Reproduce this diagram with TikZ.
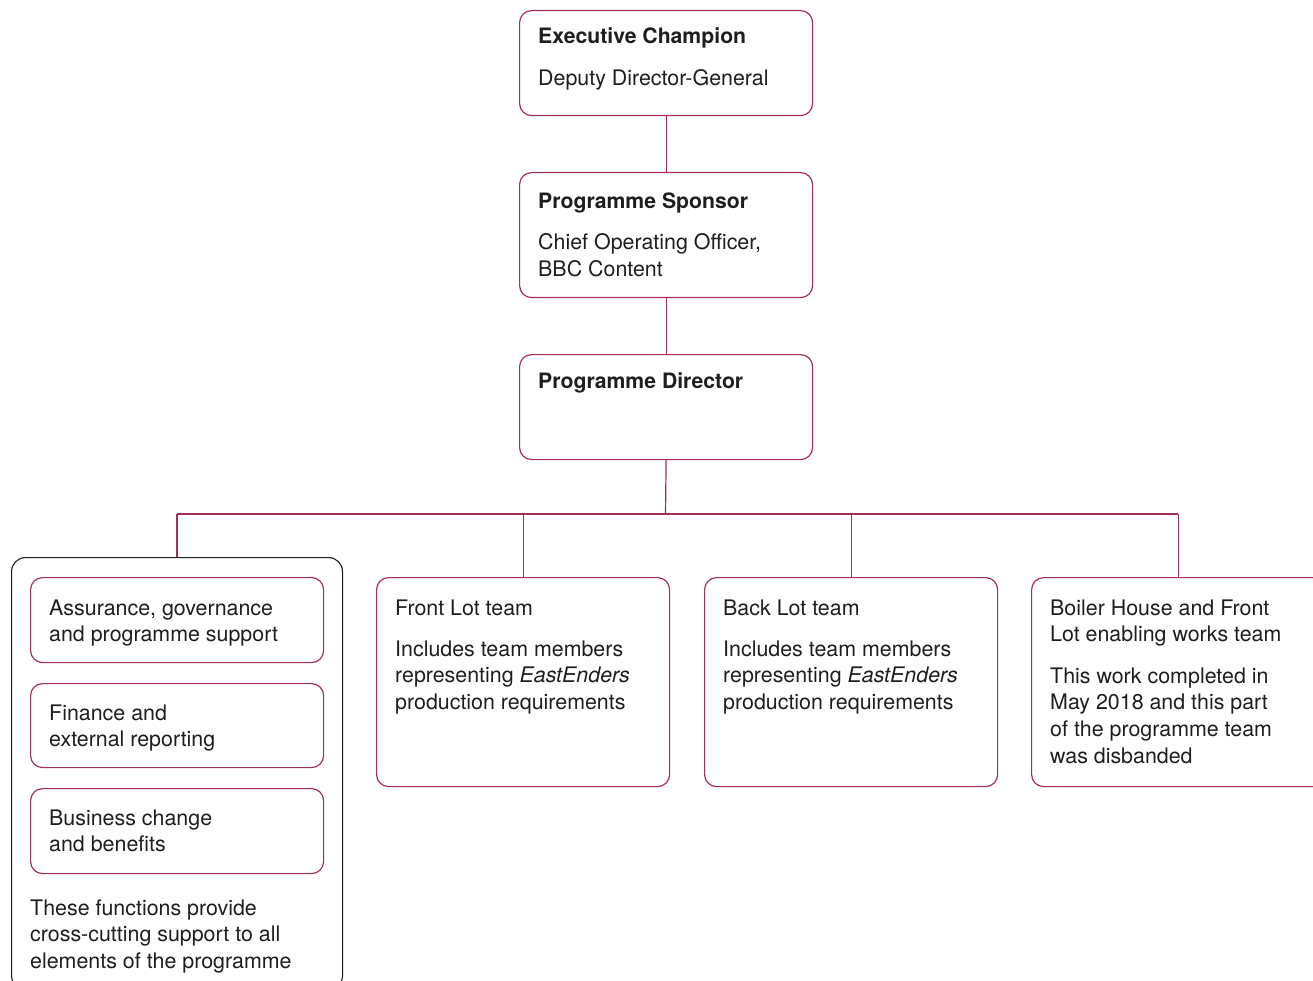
\documentclass[tikz,border=0pt]{standalone}
\usepackage{fontspec}
\setmainfont{TeX Gyre Heros}
\definecolor{crim}{RGB}{163,48,84}
\definecolor{ink}{RGB}{30,30,30}
\begin{document}
\begin{tikzpicture}[x=1pt,y=-1pt,
 box/.style={draw=crim, line width=1.2pt, rounded corners=12pt, minimum width=293pt, anchor=north west, inner sep=0pt},
 grp/.style={draw=ink, line width=1.1pt, rounded corners=14pt, anchor=north west, inner sep=0pt},
 txt/.style={anchor=base west, inner sep=0pt, align=left, font=\fontsize{21.4}{26.7}\selectfont, text=ink},
 ttl/.style={txt, font=\fontsize{21.2}{26.7}\selectfont\bfseries},
 link/.style={draw=crim, line width=1.2pt}]
\useasboundingbox (0,0) rectangle (1313,981);
% boxes
\node[box, minimum height=105pt] (ec) at (519,10) {};
\node[box, minimum height=125pt] (ps) at (519,172) {};
\node[box, minimum height=105pt] (pd) at (519,354) {};
\node[grp, minimum width=331pt, minimum height=432pt] (grp) at (11,557) {};
\node[box, minimum height=85pt] (ag) at (30,577) {};
\node[box, minimum height=84pt] (fe) at (30,683) {};
\node[box, minimum height=85pt] (bc) at (30,788) {};
\node[box, minimum height=209pt] (fl) at (376,577) {};
\node[box, minimum height=209pt] (bl) at (704,577) {};
\node[box, minimum height=209pt] (bh) at (1031,577) {};
% connectors
\coordinate (bus) at (665.5,514);
\draw[link] (ec.south) -- (ps.north);
\draw[link] (ps.south) -- (pd.north);
\draw[link] (pd.south) -- (bus);
\draw[link] (grp.north |- bus) -- (bh.north |- bus);
\draw[link] (grp.north |- bus) -- (grp.north);
\draw[link] (fl.north |- bus) -- (fl.north);
\draw[link] (bl.north |- bus) -- (bl.north);
\draw[link] (bh.north |- bus) -- (bh.north);
% texts (base anchor = baseline of the last line)
\node[ttl] (ect) at (538,44) {Executive Champion};
\node[txt] (ecs) at (538,86) {Deputy Director-General};
\node[ttl] (pst) at (538,209) {Programme Sponsor};
\node[txt] (pss) at (538,276.7) {Chief Operating Officer,\\BBC Content};
\node[ttl] (pdt) at (538,388) {Programme Director};
\node[txt] (agt) at (49,641.7) {Assurance, governance\\and programme support};
\node[txt] (fet) at (49,746.7) {Finance and\\external reporting};
\node[txt] (bct) at (49,851.7) {Business change\\and benefits};
\node[txt] (grpt) at (30,968.4) {These functions provide\\cross-cutting support to all\\elements of the programme};
\node[txt] (flt) at (395,615) {Front Lot team};
\node[txt] (fls) at (395,709.4) {Includes team members\\representing \textit{EastEnders}\\production requirements};
\node[txt] (blt) at (723,615) {Back Lot team};
\node[txt] (bls) at (723,709.4) {Includes team members\\representing \textit{EastEnders}\\production requirements};
\node[txt] (bht) at (1050,641.7) {Boiler House and Front\\Lot enabling works team};
\node[txt] (bhs) at (1050,763.1) {This work completed in\\May 2018 and this part\\of the programme team\\was disbanded};
\end{tikzpicture}
\end{document}
